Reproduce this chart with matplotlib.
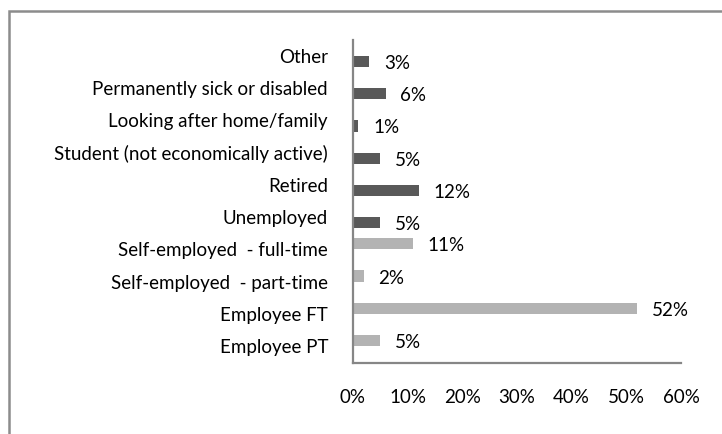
import matplotlib
matplotlib.use("Agg")
import matplotlib.pyplot as plt
from matplotlib.patches import Rectangle

# categories listed bottom to top
categories = ["Employee PT", "Employee FT", "Self-employed  - part-time",
              "Self-employed  - full-time", "Unemployed", "Retired",
              "Student (not economically active)", "Looking after home/family",
              "Permanently sick or disabled", "Other"]
# working status (light bars) and not working (dark bars); None = no bar
working = [5, 52, 2, 11, None, None, None, None, None, None]
not_working = [None, None, None, None, 5, 12, 5, 1, 6, 3]
xticks = [0, 10, 20, 30, 40, 50, 60]

plt.rcParams['font.family'] = ['Lato', 'DejaVu Sans']
fs = 13.5

fig = plt.figure(figsize=(7.22, 4.34), dpi=100)
ax = fig.add_axes([353 / 722, 1 - 362.5 / 434, 328 / 722, 323 / 434])

h = 0.35
for i, cat in enumerate(categories):
    for vals, off, col in [(working, h / 2, "#b3b3b3"), (not_working, -h / 2, "#595959")]:
        v = vals[i]
        if v is None:
            continue
        ax.barh(i + off, v, height=h, color=col)
        ax.annotate("%d%%" % v, (v, i + off), xytext=(10.5, -1.5),
                    textcoords="offset points", va="center", ha="left",
                    fontsize=fs, color="black")

ax.set_xlim(0, 60)
ax.set_ylim(-0.5, len(categories) - 0.5)
ax.set_yticks(range(len(categories)))
ax.set_yticklabels(categories)
ax.set_xticks(xticks)
ax.set_xticklabels(["%d%%" % t for t in xticks])
ax.tick_params(axis="y", length=0, pad=18, labelsize=fs)
ax.tick_params(axis="x", length=0, pad=19, labelsize=fs)

for s in ["top", "right"]:
    ax.spines[s].set_visible(False)
for s in ["left", "bottom"]:
    ax.spines[s].set_color("#868686")
    ax.spines[s].set_linewidth(1.6)

# chart area frame
fig.patches.append(Rectangle((9, -10), 740, 433, transform=None,
                             fill=False, edgecolor="#8c8c8c", linewidth=1.8))

fig.savefig("out.png", dpi=100)
